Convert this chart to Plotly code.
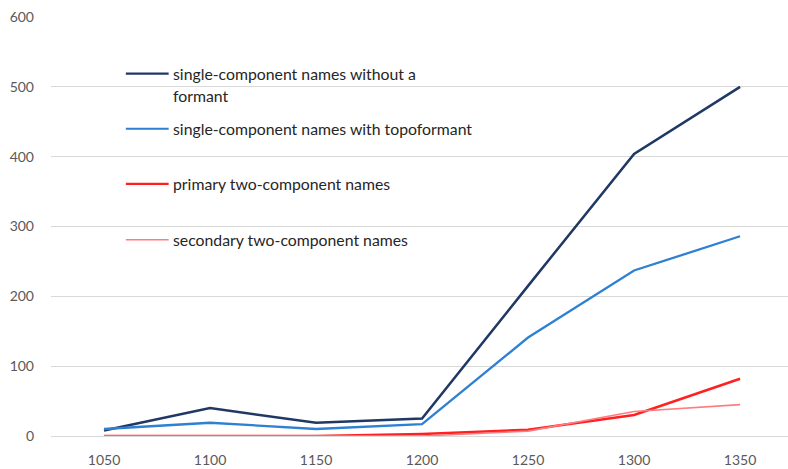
import plotly.graph_objects as go

# Periods (years) and counts of names per category
years = [1050, 1100, 1150, 1200, 1250, 1300, 1350]
single_no_formant = [8, 40, 19, 25, 215, 404, 500]
single_topoformant = [10, 19, 10, 17, 141, 237, 286]
primary_two = [0, 0, 0, 3, 9, 30, 82]
secondary_two = [0, 0, 0, 0, 7, 35, 45]

# Legend labels; each inner list holds the lines of one wrapped label
series_labels = [
    ["single-component names without a", "formant"],
    ["single-component names with topoformant"],
    ["primary two-component names"],
    ["secondary two-component names"],
]
series_values = [single_no_formant, single_topoformant, primary_two, secondary_two]
colors = ["#1F3864", "#2E80D2", "#FF2020", "#FF7C80"]
widths = [2.5, 2.3, 2.5, 1.6]

FONT = "Lato, 'Open Sans', sans-serif"
GREY = "#595959"

fig = go.Figure()
for vals, col, w, lab in zip(series_values, colors, widths, series_labels):
    fig.add_trace(go.Scatter(x=years, y=vals, mode="lines", name=" ".join(lab),
                             line=dict(color=col, width=w), showlegend=False))

# In-plot legend: short line sample followed by label text
legend_y = [519, 440, 361, 281]  # vertical anchor of each item, in y units
for lines, col, w, ly in zip(series_labels, colors, widths, legend_y):
    fig.add_shape(type="line", xref="x", yref="y",
                  x0=1060.3, x1=1080.5, y0=ly, y1=ly,
                  line=dict(color=col, width=min(w, 2.2)))
    for i, txt in enumerate(lines):
        fig.add_annotation(x=1082, y=ly, xref="x", yref="y", text=txt,
                           showarrow=False, xanchor="left", yanchor="middle",
                           xshift=-1, yshift=-22 * i, align="left",
                           font=dict(family=FONT, size=15.8, color="#262626"))

fig.update_layout(
    width=788, height=469,
    margin=dict(l=51, r=0, t=17, b=33),
    paper_bgcolor="white", plot_bgcolor="white",
    font=dict(family=FONT, size=13, color=GREY),
    xaxis=dict(range=[1025, 1372.6], tickvals=years, showgrid=False,
               zeroline=False, showline=False, ticks="",
               ticklabelstandoff=14, tickfont=dict(size=14, color=GREY)),
    yaxis=dict(range=[0, 600], dtick=100, showgrid=True, gridcolor="#D9D9D9",
               gridwidth=1, zeroline=True, zerolinecolor="#D9D9D9",
               zerolinewidth=1, showline=False, ticks="",
               ticklabelstandoff=16, tickfont=dict(size=14, color=GREY)),
)

fig.write_html("out.html")
